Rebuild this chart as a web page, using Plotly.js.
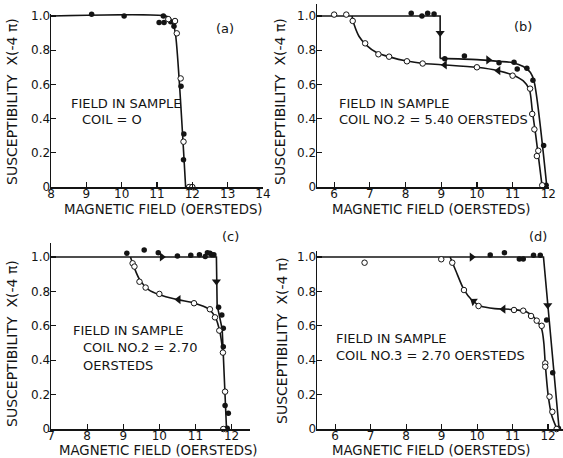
<!DOCTYPE html>
<html><head><meta charset="utf-8">
<script src="https://cdn.plot.ly/plotly-3.0.1.min.js"></script>
<style>html,body{margin:0;padding:0;background:#fff}</style>
</head><body>
<div id="chart" style="width:563px;height:458px"></div>
<script>
// ---------- data ----------
// Panel (a): coil = 0
const aFilledX = [9.15, 10.07, 11.06, 11.18, 11.2, 11.39, 11.48, 11.68, 11.76, 11.75];
const aFilledY = [1.01, 1.0, 0.963, 1.0, 0.963, 0.967, 0.94, 0.59, 0.31, 0.16];
const aOpenX = [11.32, 11.51, 11.56, 11.67, 11.75, 11.91, 12.0];
const aOpenY = [0.982, 0.971, 0.899, 0.635, 0.265, 0.0, 0.0];
const aCurveX = [8.0, 11.25, 11.38, 11.46, 11.52, 11.81];
const aCurveY = [1.0, 1.0, 0.985, 0.95, 0.9, 0.0];

// Panel (b): coil no.2 = 5.40 oersteds
const bFilledX = [8.16, 8.46, 8.62, 8.8, 9.1, 9.65, 10.62, 11.04, 11.13, 11.4, 11.57, 11.87, 11.94];
const bFilledY = [1.016, 1.0, 1.016, 1.012, 0.75, 0.766, 0.727, 0.729, 0.69, 0.694, 0.624, 0.242, 0.01];
const bOpenX = [6.0, 6.34, 6.52, 6.87, 7.24, 7.54, 8.04, 8.48, 10.0, 11.0, 11.49, 11.55, 11.61, 11.72, 11.68, 11.83];
const bOpenY = [1.008, 1.008, 0.971, 0.84, 0.776, 0.762, 0.735, 0.722, 0.70, 0.651, 0.575, 0.427, 0.337, 0.212, 0.181, 0.01];
const bUpperStepX = [5.52, 8.97, 8.97];
const bUpperStepY = [1.0, 1.0, 0.752];
const bUpperCurveX = [8.97, 10.0, 10.6, 11.0, 11.3, 11.5, 11.6, 11.96];
const bUpperCurveY = [0.752, 0.745, 0.735, 0.727, 0.705, 0.67, 0.62, 0.0];
const bLowerCurveX = [6.5, 6.56, 6.7, 6.9, 7.2, 7.6, 8.0, 8.5, 9.0, 10.0, 10.6, 11.0, 11.3, 11.47, 11.55, 11.65, 11.83];
const bLowerCurveY = [1.0, 0.95, 0.88, 0.83, 0.785, 0.758, 0.738, 0.722, 0.715, 0.70, 0.68, 0.655, 0.62, 0.57, 0.45, 0.3, 0.0];
const bArrowRightX = [10.32]; const bArrowRightY = [0.743];
const bArrowLeftX = [9.1, 10.6]; const bArrowLeftY = [0.714, 0.68];
const bArrowDownX = [8.97]; const bArrowDownY = [0.9];

// Panel (c): coil no.2 = 2.70 oersteds
const cFilledX = [9.1, 9.58, 9.97, 10.5, 10.87, 11.11, 11.27, 11.33, 11.4, 11.45, 11.51, 11.64, 11.73, 11.77, 11.77, 11.82, 11.91, 11.88];
const cFilledY = [1.021, 1.041, 1.025, 1.006, 1.01, 1.012, 1.002, 1.025, 1.021, 1.012, 1.012, 0.707, 0.663, 0.585, 0.478, 0.136, 0.091, 0.004];
const cOpenX = [9.26, 9.31, 9.45, 9.62, 10.0, 10.96, 11.4, 11.54, 11.66, 11.76, 11.82, 11.77];
const cOpenY = [0.963, 0.944, 0.856, 0.822, 0.785, 0.731, 0.696, 0.649, 0.572, 0.444, 0.217, 0.0];
const cUpperX = [7.0, 11.58, 11.6, 11.74, 11.86];
const cUpperY = [1.0, 1.0, 0.72, 0.58, 0.0];
const cLowerCurveX = [9.2, 9.3, 9.45, 9.7, 10.0, 10.5, 11.0, 11.35, 11.55, 11.68, 11.75];
const cLowerCurveY = [1.0, 0.94, 0.87, 0.81, 0.78, 0.752, 0.73, 0.70, 0.65, 0.56, 0.46];
const cArrowRightX = [10.07]; const cArrowRightY = [1.0];
const cArrowLeftX = [10.53]; const cArrowLeftY = [0.752];
const cArrowDownX = [11.58]; const cArrowDownY = [0.857];

// Panel (d): coil no.3 = 2.70 oersteds
const dFilledX = [10.37, 10.77, 11.19, 11.3, 11.59, 11.78, 11.96, 12.13, 12.29];
const dFilledY = [1.012, 1.025, 0.988, 0.988, 1.01, 1.01, 0.634, 0.327, 0.004];
const dOpenX = [6.83, 8.99, 9.3, 9.63, 10.04, 11.04, 11.3, 11.52, 11.68, 11.82, 11.92, 11.92, 12.04, 12.12, 12.24];
const dOpenY = [0.967, 0.987, 0.967, 0.808, 0.715, 0.692, 0.688, 0.657, 0.63, 0.60, 0.382, 0.362, 0.188, 0.10, 0.0];
const dUpperX = [5.49, 11.87, 12.31];
const dUpperY = [1.0, 1.0, 0.0];
const dLowerCurveX = [9.24, 9.4, 9.63, 9.85, 10.1, 10.5, 11.0, 11.4, 11.65, 11.82, 11.88, 11.92, 12.0, 12.1, 12.25];
const dLowerCurveY = [1.0, 0.92, 0.81, 0.75, 0.715, 0.70, 0.695, 0.68, 0.64, 0.58, 0.5, 0.38, 0.2, 0.08, 0.0];
const dArrowRightX = [9.85]; const dArrowRightY = [1.0];
const dArrowLeftX = [10.74]; const dArrowLeftY = [0.697];
const dArrowSlantX = [9.9]; const dArrowSlantY = [0.742];
const dArrowDownX = [11.99]; const dArrowDownY = [0.72];

const yTickVals = [0, 0.2, 0.4, 0.6, 0.8, 1.0];
const yTickText = ['0', '0.2', '0.4', '0.6', '0.8', '1.0'];
const aTicks = [8, 9, 10, 11, 12, 13, 14];
const bTicks = [6, 7, 8, 9, 10, 11, 12];
const cTicks = [7, 8, 9, 10, 11, 12];
const dTicks = [6, 7, 8, 9, 10, 11, 12];

const xTitle = 'MAGNETIC FIELD (OERSTEDS)';
const yTitle = 'SUSCEPTIBILITY  X(-4 π)';

// ---------- drawing ----------
const INK = '#141414';
const W = 563, H = 458;
function fx(px) { return px / W; }
function fy(py) { return (H - py) / H; }

function line(x, y, ax, shape) {
  return {x, y, xaxis: 'x' + ax, yaxis: 'y' + ax, mode: 'lines', type: 'scatter',
    line: {color: INK, width: 1.6, shape: shape || 'linear', smoothing: 0.8}, hoverinfo: 'skip', cliponaxis: false};
}
function filled(x, y, ax) {
  return {x, y, xaxis: 'x' + ax, yaxis: 'y' + ax, mode: 'markers', type: 'scatter', cliponaxis: false,
    marker: {symbol: 'circle', size: 5.5, color: INK, line: {width: 0}}};
}
function open(x, y, ax) {
  return {x, y, xaxis: 'x' + ax, yaxis: 'y' + ax, mode: 'markers', type: 'scatter', cliponaxis: false,
    marker: {symbol: 'circle', size: 5.5, color: '#fff', line: {width: 1, color: INK}}};
}
function arrow(x, y, ax, sym, ang) {
  return {x, y, xaxis: 'x' + ax, yaxis: 'y' + ax, mode: 'markers', type: 'scatter', cliponaxis: false,
    marker: {symbol: sym, size: 8, color: INK, angle: ang || 0, line: {width: 0}}};
}

const traces = [
  line(aCurveX, aCurveY, '', 'spline'),
  filled(aFilledX, aFilledY, ''), open(aOpenX, aOpenY, ''),

  line(bUpperStepX, bUpperStepY, '2'), line(bUpperCurveX, bUpperCurveY, '2', 'spline'),
  line(bLowerCurveX, bLowerCurveY, '2', 'spline'),
  filled(bFilledX, bFilledY, '2'), open(bOpenX, bOpenY, '2'),
  arrow(bArrowRightX, bArrowRightY, '2', 'triangle-right'),
  arrow(bArrowLeftX, bArrowLeftY, '2', 'triangle-left'),
  arrow(bArrowDownX, bArrowDownY, '2', 'triangle-down'),

  line(cUpperX, cUpperY, '3'), line(cLowerCurveX, cLowerCurveY, '3', 'spline'),
  filled(cFilledX, cFilledY, '3'), open(cOpenX, cOpenY, '3'),
  arrow(cArrowRightX, cArrowRightY, '3', 'triangle-right'),
  arrow(cArrowLeftX, cArrowLeftY, '3', 'triangle-left'),
  arrow(cArrowDownX, cArrowDownY, '3', 'triangle-down'),

  line(dUpperX, dUpperY, '4'), line(dLowerCurveX, dLowerCurveY, '4', 'spline'),
  filled(dFilledX, dFilledY, '4'), open(dOpenX, dOpenY, '4'),
  arrow(dArrowRightX, dArrowRightY, '4', 'triangle-right'),
  arrow(dArrowLeftX, dArrowLeftY, '4', 'triangle-left'),
  arrow(dArrowSlantX, dArrowSlantY, '4', 'triangle-left', 35),
  arrow(dArrowDownX, dArrowDownY, '4', 'triangle-down')
];
traces[0].xaxis = 'x'; traces[0].yaxis = 'y';
traces[1].xaxis = 'x'; traces[1].yaxis = 'y';
traces[2].xaxis = 'x'; traces[2].yaxis = 'y';

const tickFont = {family: 'DejaVu Sans', size: 12, color: INK};
function xax(range, dom, ticks, anchor) {
  return {range, domain: dom, anchor, tickmode: 'array', tickvals: ticks, ticktext: ticks.map(String),
    showline: true, linecolor: INK, linewidth: 1.5, ticks: 'inside', ticklen: 5, tickwidth: 1.2, tickcolor: INK,
    showgrid: false, zeroline: false, tickfont: tickFont, fixedrange: true, ticklabelstandoff: -5};
}
function yax(range, dom, anchor) {
  return {range, domain: dom, anchor, tickmode: 'array', tickvals: yTickVals, ticktext: yTickText,
    showline: true, linecolor: INK, linewidth: 1.5, ticks: 'inside', ticklen: 5, tickwidth: 1.2, tickcolor: INK,
    showgrid: false, zeroline: false, tickfont: tickFont, fixedrange: true, ticklabelstandoff: -3};
}

const txt = {family: 'DejaVu Sans', size: 13, color: INK};
function note(text, px, py, anchor, size) {
  return {text, x: fx(px), y: fy(py), xref: 'paper', yref: 'paper', showarrow: false, borderpad: 0,
    xanchor: anchor || 'center', yanchor: 'middle', font: Object.assign({}, txt, size ? {size} : {})};
}
function ynote(text, px, py) {
  return {text, x: fx(px), y: fy(py), xref: 'paper', yref: 'paper', showarrow: false, textangle: -90, borderpad: 0,
    xanchor: 'center', yanchor: 'middle', font: Object.assign({}, txt, {size: 14})};
}

const layout = {
  width: W, height: H, margin: {l: 0, r: 0, t: 0, b: 0},
  paper_bgcolor: '#fff', plot_bgcolor: 'rgba(0,0,0,0)', showlegend: false,
  xaxis: xax([8, 14], [fx(51), fx(263)], aTicks, 'y'),
  yaxis: yax([0, 1.012], [fy(187), fy(14)], 'x'),
  xaxis2: xax([5.52, 12.02], [fx(317), fx(549)], bTicks, 'y2'),
  yaxis2: yax([0, 1.07], [fy(187), fy(4)], 'x2'),
  xaxis3: xax([7, 12.51], [fx(51), fx(250)], cTicks, 'y3'),
  yaxis3: yax([0, 1.081], [fy(429), fy(243)], 'x3'),
  xaxis4: xax([5.49, 12.42], [fx(317), fx(563)], dTicks, 'y4'),
  yaxis4: yax([0, 1.035], [fy(429), fy(251)], 'x4'),
  annotations: [
    note(xTitle, 163, 210, 'center', 13.3), note(xTitle, 431, 209, 'center', 13.3),
    note(xTitle, 158, 450, 'center', 13.3), note(xTitle, 431, 450, 'center', 13.3),
    ynote(yTitle, 12, 102), ynote(yTitle, 280, 102), ynote(yTitle, 12, 344), ynote(yTitle, 282, 341),
    note('(a)', 225, 28), note('(b)', 523, 27), note('(c)', 230, 236), note('(d)', 538, 236),
    note('FIELD IN SAMPLE', 126, 103), note('COIL = O', 112, 119),
    note('FIELD IN SAMPLE', 338, 104, 'left'), note('COIL NO.2 = 5.40 OERSTEDS', 338, 120, 'left'),
    note('FIELD IN SAMPLE', 72, 330, 'left'), note('COIL NO.2 = 2.70', 82, 347, 'left'), note('OERSTEDS', 82, 365, 'left'),
    note('FIELD IN SAMPLE', 335, 338, 'left'), note('COIL NO.3 = 2.70 OERSTEDS', 335, 355, 'left')
  ]
};

Plotly.newPlot('chart', traces, layout, {displayModeBar: false, staticPlot: true});
</script>
</body></html>
